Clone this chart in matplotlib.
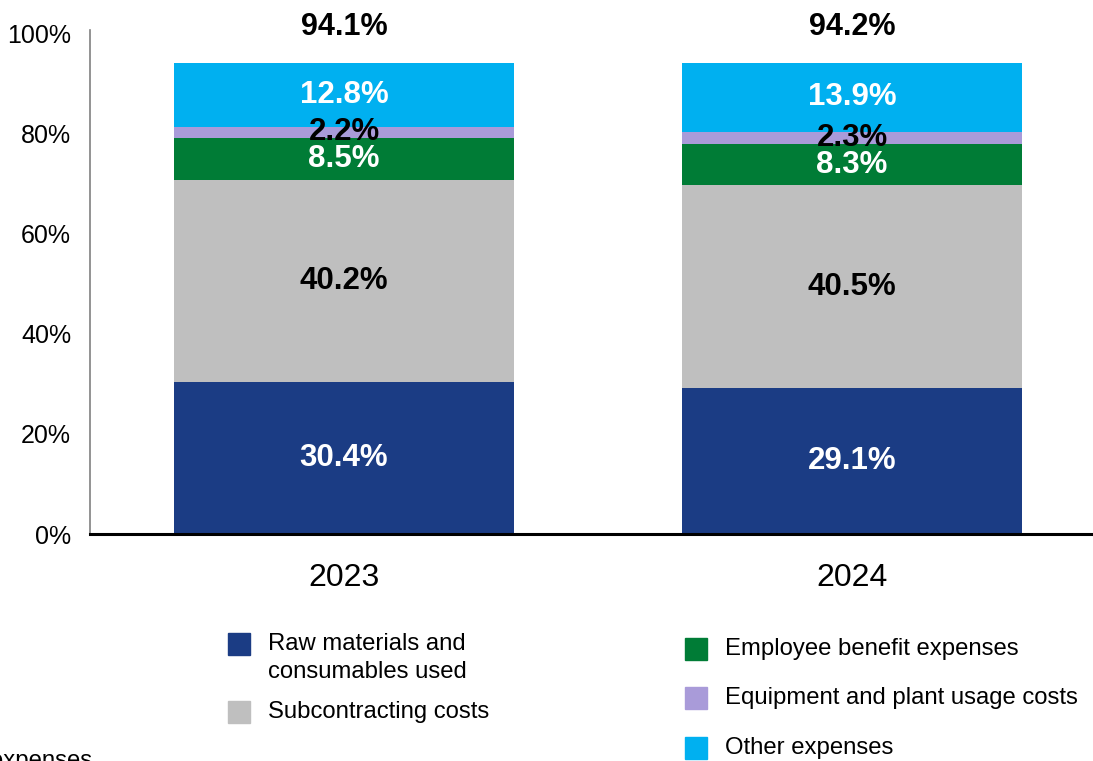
import matplotlib.pyplot as plt
from matplotlib.patches import Rectangle

plt.rcParams['font.family'] = ['Liberation Sans', 'DejaVu Sans']

years = ['2023', '2024']
categories = [
    'Raw materials and\nconsumables used',
    'Subcontracting costs',
    'Employee benefit expenses',
    'Equipment and plant usage costs',
    'Other expenses',
]
raw_materials = [30.4, 29.1]
subcontracting = [40.2, 40.5]
employee = [8.5, 8.3]
equipment = [2.2, 2.3]
other = [12.8, 13.9]
totals = [94.1, 94.2]

series = [raw_materials, subcontracting, employee, equipment, other]
colors = ['#1B3C84', '#BFBFBF', '#007C36', '#A99BD9', '#00B0F0']
label_colors = ['white', 'black', 'white', 'black', 'white']

fig = plt.figure(figsize=(10.93, 7.61), dpi=100)
ax = fig.add_axes([90 / 1093, 1 - 534 / 761, 1 - 90 / 1093, (534 - 33) / 761])

x = range(len(years))
bottoms = [0.0] * len(years)
for vals, col, lc in zip(series, colors, label_colors):
    bars = ax.bar(x, vals, width=0.67, bottom=bottoms, color=col, edgecolor='none')
    for rect, v in zip(bars, vals):
        ax.text(rect.get_x() + rect.get_width() / 2, rect.get_y() + v / 2,
                f'{v:.1f}%', ha='center', va='center', color=lc,
                fontsize=22.5, fontweight='bold')
    bottoms = [b + v for b, v in zip(bottoms, vals)]

# totals above the plot area
for i, t in enumerate(totals):
    ax.text(i, 101.2, f'{t:.1f}%', ha='center', va='center', fontsize=22,
            fontweight='bold', clip_on=False)

ax.set_xlim(-0.5, (1093 - 344) / 508)
ax.set_ylim(0, 100)
ax.set_yticks(range(0, 101, 20))
ax.set_yticklabels([f'{v}%' for v in range(0, 101, 20)], fontsize=18)
ax.set_xticks(list(x))
ax.set_xticklabels(years, fontsize=23)
ax.tick_params(axis='y', length=0, pad=13.5)
ax.tick_params(axis='x', length=0, pad=21)
for side in ['top', 'right']:
    ax.spines[side].set_visible(False)
ax.spines['left'].set_linewidth(1.2)
ax.spines['left'].set_color('#808080')
ax.spines['left'].set_bounds(0, 100.6)
ax.spines['bottom'].set_linewidth(2.2)
ax.spines['bottom'].set_color('black')

# legend, two columns, drawn in pixel positions
W, H = 1093, 761
legend_items = [
    (228, 644, 268, 658, categories[0], colors[0]),
    (228, 712, 268, 712, categories[1], colors[1]),
    (685, 649, 725, 649, categories[2], colors[2]),
    (685, 698, 725, 698, categories[3], colors[3]),
    (685, 748, 725, 748, categories[4], colors[4]),
]
for mx, my, tx, ty, text, col in legend_items:
    fig.patches.append(Rectangle((mx / W, 1 - (my + 11) / H), 22 / W, 22 / H,
                                 transform=fig.transFigure, color=col))
    fig.text(tx / W, 1 - ty / H, text, fontsize=17.2, ha='left', va='center',
             linespacing=1.4)

fig.text(-10 / W, 1 - 767 / H, 'expenses', fontsize=17.2, ha='left', va='baseline')

fig.savefig('out.png', dpi=100)
